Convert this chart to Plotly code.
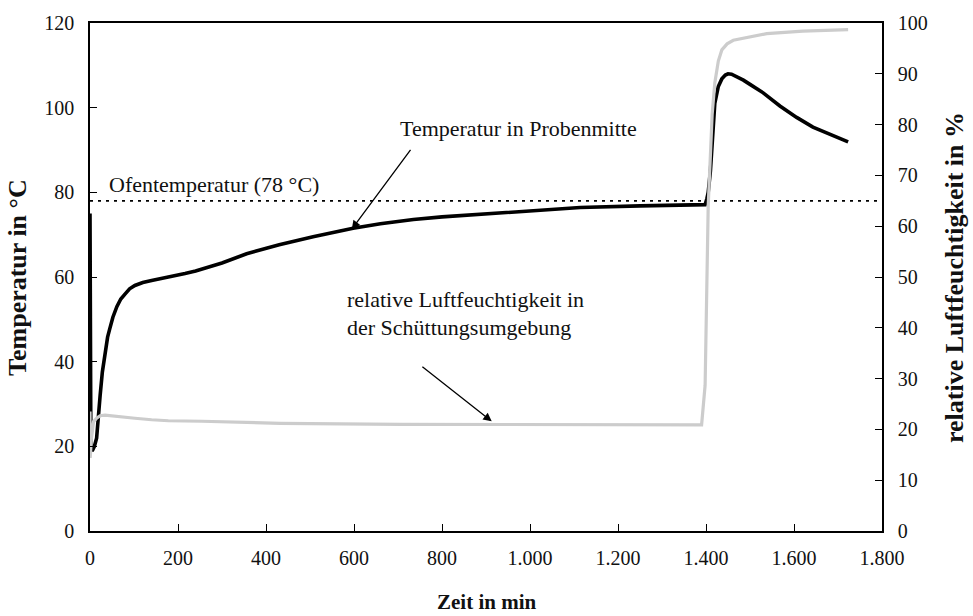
import plotly.graph_objects as go

# Temperatur in Probenmitte (°C) über der Zeit (min)
temp_t = [0, 0.5, 2, 5, 10, 15, 19, 23, 28, 34, 40, 45, 52, 61, 70, 80, 90,
          102, 120, 140, 160, 189, 216, 240, 261, 300, 356, 430, 507, 550,
          598, 660, 735, 800, 886, 1000, 1114, 1250, 1398, 1402, 1405, 1410,
          1415, 1420, 1428, 1436, 1444, 1450, 1458, 1468, 1485, 1500, 1530,
          1568, 1606, 1643, 1682, 1723]
temp_v = [75, 28, 19.5, 18.9, 20.0, 21.9, 26, 32, 37.5, 42.5, 45.8, 47.8,
          50.5, 53, 54.8, 56, 57.2, 58, 58.7, 59.2, 59.6, 60.1, 60.8, 61.4,
          62, 63.3, 65.5, 67.6, 69.5, 70.5, 71.5, 72.6, 73.6, 74.2, 74.8,
          75.7, 76.4, 76.8, 77.1, 78.5, 80, 85, 95, 101, 105, 106.8, 107.7,
          108, 107.9, 107.4, 106.5, 105.5, 103.5, 100.4, 97.7, 95.4, 93.8,
          91.9]

# relative Luftfeuchtigkeit in der Schüttungsumgebung (%)
rh_t = [0, 0.5, 3, 8, 15, 23, 34, 64, 102, 140, 178, 254, 432, 705, 1000,
        1200, 1390, 1398, 1402, 1405, 1409, 1414, 1420, 1428, 1436, 1448,
        1462, 1500, 1538, 1620, 1723]
rh_v = [23.5, 14.4, 18, 21.5, 22.2, 22.7, 22.8, 22.6, 22.2, 21.9, 21.7, 21.6,
        21.2, 21.0, 20.9, 20.9, 20.9, 28.7, 44.9, 64, 72, 82, 88.2, 92.5,
        94.7, 95.9, 96.6, 97.3, 97.9, 98.4, 98.7]

# Ofentemperatur
oven_t = [0, 1800]
oven_v = [78, 78]

x_ticks = [0, 200, 400, 600, 800, 1000, 1200, 1400, 1600, 1800]
x_tick_labels = ["0", "200", "400", "600", "800", "1.000", "1.200", "1.400",
                 "1.600", "1.800"]
y_ticks = [0, 20, 40, 60, 80, 100, 120]
y2_ticks = [0, 10, 20, 30, 40, 50, 60, 70, 80, 90, 100]

FONT = "Liberation Serif, Times New Roman, serif"

fig = go.Figure()
fig.add_trace(go.Scatter(x=oven_t, y=oven_v, mode="lines",
                         line=dict(color="black", width=1.8, dash="3px,5px"),
                         hoverinfo="skip"))
fig.add_trace(go.Scatter(x=rh_t, y=rh_v, mode="lines", yaxis="y2",
                         line=dict(color="#cccccc", width=3.2)))
fig.add_trace(go.Scatter(x=temp_t, y=temp_v, mode="lines",
                         line=dict(color="black", width=3.6)))

axis_common = dict(showline=True, linecolor="black", linewidth=1.5,
                   ticks="inside", ticklen=7, tickwidth=1.2, tickcolor="black",
                   showgrid=False, zeroline=False,
                   tickfont=dict(family=FONT, size=20, color="#111"))

fig.update_layout(
    width=973, height=616,
    margin=dict(l=90, r=91, t=16, b=85),
    paper_bgcolor="white", plot_bgcolor="white",
    showlegend=False,
    xaxis=dict(range=[0, 1800], tickvals=x_ticks, ticktext=x_tick_labels,
               mirror=True, ticklabelstandoff=8, **axis_common),
    yaxis=dict(range=[0, 120], tickvals=y_ticks, ticklabelstandoff=10,
               **axis_common),
    yaxis2=dict(range=[0, 100], tickvals=y2_ticks, overlaying="y",
                side="right", ticklabelstandoff=10, **axis_common),
)

txt = dict(family=FONT, size=22, color="#111")
bold = dict(family=FONT, size=26, color="#111", weight="bold")

annotations = [
    dict(x=39, y=81.8, xref="x", yref="y", text="Ofentemperatur (78 °C)",
         showarrow=False, xanchor="left", yanchor="middle", font=txt),
    dict(x=973, y=95.1, xref="x", yref="y", text="Temperatur in Probenmitte",
         showarrow=False, xanchor="center", yanchor="middle", font=txt),
    dict(x=595, y=71.3, xref="x", yref="y", ax=731, ay=90.4, axref="x",
         ayref="y", text="", showarrow=True, arrowhead=2, arrowsize=1.3,
         arrowwidth=1.3, arrowcolor="black"),
    dict(x=580, y=54.6, xref="x", yref="y",
         text="relative Luftfeuchtigkeit in", showarrow=False,
         xanchor="left", yanchor="middle", font=txt),
    dict(x=580, y=48.0, xref="x", yref="y", text="der Schüttungsumgebung",
         showarrow=False, xanchor="left", yanchor="middle", font=txt),
    dict(x=913, y=25.9, xref="x", yref="y", ax=752, ay=39.1, axref="x",
         ayref="y", text="", showarrow=True, arrowhead=2, arrowsize=1.3,
         arrowwidth=1.3, arrowcolor="black"),
    dict(x=18, y=274.5, xref="paper", yref="paper", text="Temperatur in °C",
         showarrow=False, textangle=-90, font=bold),
    dict(x=955, y=274.5, xref="paper", yref="paper",
         text="relative Luftfeuchtigkeit in %", showarrow=False,
         textangle=-90, font=bold),
    dict(x=486, y=603, xref="paper", yref="paper", text="Zeit in min",
         showarrow=False, font=dict(bold, size=21)),
]

# axis titles are placed in pixels: convert to paper coordinates
pw, ph = 973 - 90 - 91, 616 - 16 - 85
for a in annotations:
    if a["xref"] == "paper":
        a["x"] = (a["x"] - 90) / pw
        a["y"] = (616 - 85 - a["y"]) / ph
        a["xanchor"] = "center"
        a["yanchor"] = "middle"
fig.update_layout(annotations=annotations)

fig.write_html("out.html")
